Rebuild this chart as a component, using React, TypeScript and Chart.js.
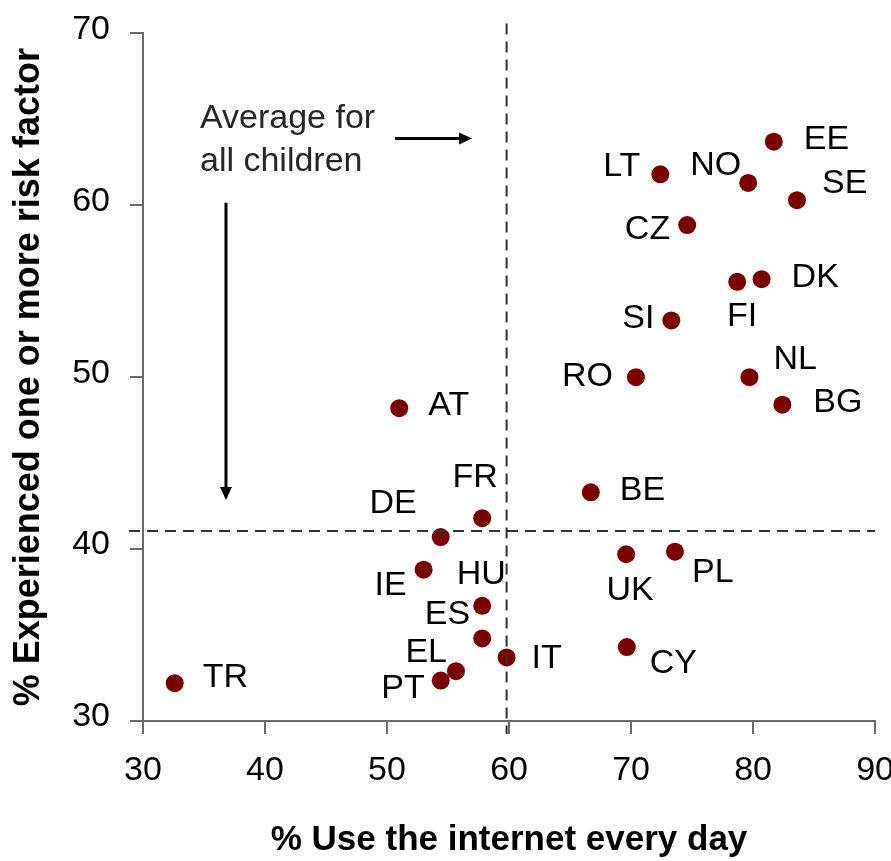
import React, { useEffect, useRef } from 'react';
import { Chart, registerables } from 'chart.js';

Chart.register(...registerables);

// ---- data ----
const countries = ['TR', 'AT', 'DE', 'FR', 'IE', 'HU', 'ES', 'EL', 'PT', 'IT', 'BE', 'UK', 'PL', 'CY', 'RO', 'SI', 'CZ', 'LT', 'NO', 'EE', 'SE', 'FI', 'DK', 'NL', 'BG'];
const dailyUse = [32.6, 51.0, 54.4, 57.8, 53.0, 57.8, 57.8, 55.65, 54.4, 59.8, 66.7, 69.6, 73.6, 69.65, 70.4, 73.3, 74.6, 72.4, 79.6, 81.7, 83.6, 78.7, 80.7, 79.7, 82.4];
const riskFactor = [32.2, 48.2, 40.7, 41.8, 38.8, 36.7, 34.8, 32.9, 32.35, 33.7, 43.3, 39.7, 39.85, 34.3, 50.0, 53.3, 58.85, 61.8, 61.3, 63.7, 60.3, 55.55, 55.7, 50.0, 48.4];
const averageUse = 59.8;
const averageRisk = 41.05;
const xRange = [30, 90];
const yRange = [30, 70];
const tickStep = 10;
const xTitle = '% Use the internet every day';
const yTitle = '% Experienced one or more risk factor';
const noteLines = ['Average for', 'all children'];

// ---- label placement (style, px offsets from point) ----
const labelPlace: Record<string, [CanvasTextAlign, number, number]> = {
  TR: ['left', 28, -6], AT: ['left', 29, -3], DE: ['right', -24, -33], FR: ['center', -7, -41],
  IE: ['right', -17, 16], HU: ['center', -1, -31], ES: ['right', -12, -24], EL: ['right', -9, -19],
  PT: ['right', -16, 8], IT: ['left', 25, 1], BE: ['left', 29, -2], UK: ['center', 4, 36],
  PL: ['left', 17, 21], CY: ['left', 23, 17], RO: ['right', -23, -1], SI: ['right', -17, -2],
  CZ: ['right', -17, 5], LT: ['right', -20, -8], NO: ['right', -7, -17], EE: ['left', 30, -2],
  SE: ['left', 25, -17], FI: ['center', 5, 35], DK: ['left', 30, -2], NL: ['left', 24, -18],
  BG: ['left', 31, -2],
};
// annotation anchors in data units
const notePos = { x: 34.67, y1: 64.52, y2: 62.01 };
const rightArrow = { x0: 50.66, x1: 56.97, y: 63.88 };
const downArrow = { x: 36.8, y0: 60.15, y1: 42.85 };

const FONT = "'Liberation Sans', Arial, sans-serif";
const AXIS_COLOR = '#6b6b6b';

function arrow(ctx: CanvasRenderingContext2D, x0: number, y0: number, x1: number, y1: number) {
  const ang = Math.atan2(y1 - y0, x1 - x0);
  const head = 13;
  const half = 6;
  const bx = x1 - head * Math.cos(ang);
  const by = y1 - head * Math.sin(ang);
  ctx.save();
  ctx.strokeStyle = '#000';
  ctx.fillStyle = '#000';
  ctx.lineWidth = 3;
  ctx.beginPath();
  ctx.moveTo(x0, y0);
  ctx.lineTo(bx, by);
  ctx.stroke();
  ctx.beginPath();
  ctx.moveTo(x1, y1);
  ctx.lineTo(bx + half * Math.sin(ang), by - half * Math.cos(ang));
  ctx.lineTo(bx - half * Math.sin(ang), by + half * Math.cos(ang));
  ctx.closePath();
  ctx.fill();
  ctx.restore();
}

const overlayPlugin = {
  id: 'overlay',
  afterDatasetsDraw(chart: any) {
    const { ctx, chartArea, scales } = chart;
    const xs = scales.x;
    const ys = scales.y;
    // average dashed lines
    ctx.save();
    ctx.strokeStyle = '#333';
    ctx.lineWidth = 2;
    ctx.setLineDash([11, 7]);
    const ax = xs.getPixelForValue(averageUse);
    ctx.beginPath();
    ctx.moveTo(ax, chartArea.top - 10);
    ctx.lineTo(ax, chartArea.bottom + 13);
    ctx.stroke();
    const ay = ys.getPixelForValue(averageRisk);
    ctx.beginPath();
    ctx.moveTo(chartArea.left - 14, ay);
    ctx.lineTo(chartArea.right, ay);
    ctx.stroke();
    ctx.restore();

    // point labels
    const meta = chart.getDatasetMeta(0);
    ctx.save();
    ctx.font = `34px ${FONT}`;
    ctx.fillStyle = '#000';
    ctx.textBaseline = 'middle';
    meta.data.forEach((el: any, i: number) => {
      const name = countries[i];
      const p = labelPlace[name] || ['left', 20, 0];
      ctx.textAlign = p[0];
      ctx.fillText(name, el.x + p[1], el.y + p[2]);
    });
    ctx.restore();

    // annotation
    ctx.save();
    ctx.font = `34px ${FONT}`;
    ctx.fillStyle = '#262626';
    ctx.textAlign = 'left';
    ctx.textBaseline = 'alphabetic';
    ctx.fillText(noteLines[0], xs.getPixelForValue(notePos.x), ys.getPixelForValue(notePos.y1));
    ctx.fillText(noteLines[1], xs.getPixelForValue(notePos.x), ys.getPixelForValue(notePos.y2));
    ctx.restore();
    arrow(ctx, xs.getPixelForValue(rightArrow.x0), ys.getPixelForValue(rightArrow.y), xs.getPixelForValue(rightArrow.x1), ys.getPixelForValue(rightArrow.y));
    arrow(ctx, xs.getPixelForValue(downArrow.x), ys.getPixelForValue(downArrow.y0), xs.getPixelForValue(downArrow.x), ys.getPixelForValue(downArrow.y1));
  },
};

export default function App() {
  const ref = useRef<HTMLCanvasElement | null>(null);
  useEffect(() => {
    if (!ref.current) return;
    const chart = new Chart(ref.current, {
      type: 'scatter',
      data: {
        datasets: [
          {
            label: 'Countries',
            data: dailyUse.map((x, i) => ({ x, y: riskFactor[i] })),
            backgroundColor: '#7a0000',
            borderColor: '#7a0000',
            pointRadius: 9,
            pointHoverRadius: 9,
            borderWidth: 0,
          },
        ],
      },
      options: {
        responsive: false,
        animation: false,
        devicePixelRatio: 1,
        layout: { padding: { top: 26, right: 25, left: 0, bottom: 0 } },
        plugins: { legend: { display: false }, tooltip: { enabled: false } },
        scales: {
          x: {
            type: 'linear',
            min: xRange[0],
            max: xRange[1],
            ticks: { stepSize: tickStep, color: '#000', font: { family: FONT, size: 34 }, padding: 16 },
            grid: { drawOnChartArea: false, drawTicks: true, tickLength: 13, color: AXIS_COLOR, lineWidth: 2 },
            border: { display: true, color: AXIS_COLOR, width: 2 },
            title: { display: true, text: xTitle, color: '#000', font: { family: FONT, size: 35, weight: 'bold' }, padding: { top: 0, bottom: 0 } },
            afterFit: (s: any) => { s.height = 140; },
          },
          y: {
            type: 'linear',
            min: yRange[0],
            max: yRange[1],
            ticks: { stepSize: tickStep, color: '#000', font: { family: FONT, size: 34 }, padding: 20, labelOffset: -4 },
            grid: { drawOnChartArea: false, drawTicks: true, tickLength: 13, color: AXIS_COLOR, lineWidth: 2 },
            border: { display: true, color: AXIS_COLOR, width: 2 },
            title: { display: true, text: yTitle, color: '#000', font: { family: FONT, size: 36, weight: 'bold' }, padding: { top: 7, bottom: 0 } },
            afterFit: (s: any) => { s.width = 143; },
          },
        },
      },
      plugins: [overlayPlugin],
    });
    return () => chart.destroy();
  }, []);
  return (
    <div style={{ position: 'absolute', left: 0, top: 0, width: 891, height: 861, overflow: 'hidden', background: '#fff' }}>
      <canvas ref={ref} width={910} height={868} style={{ position: 'absolute', left: 0, top: -7, width: 910, height: 868, display: 'block' }} />
    </div>
  );
}
